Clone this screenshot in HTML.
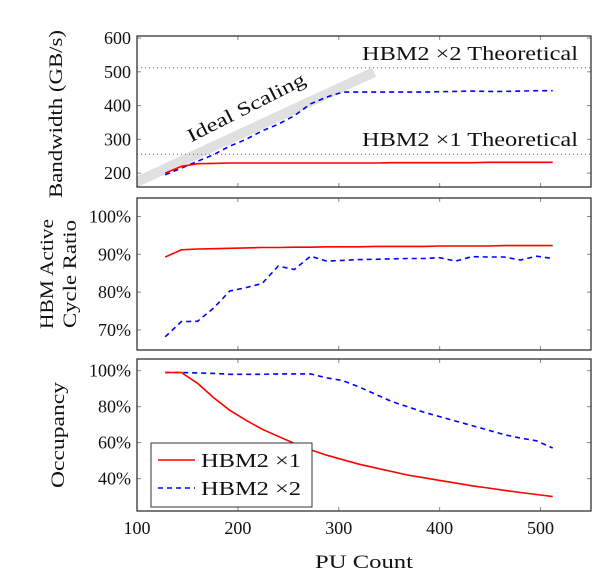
<!DOCTYPE html>
<html><head><meta charset="utf-8"><style>
html,body{margin:0;padding:0;background:#fff;}
svg{display:block;font-family:"Liberation Serif",serif;}
</style></head><body>
<svg id="chart" width="607" height="582" viewBox="0 0 607 582" xmlns="http://www.w3.org/2000/svg"></svg>
<script>
const puCounts=[128,144,160,176,192,208,224,240,256,272,288,304,320,336,352,368,384,400,416,432,448,464,480,496,512];
const bwX1=[200,220,228,229,230,230,230,230,230,230,230,230,230,230,231,231,231,231,231,231,232,232,232,232,232];
const bwX2=[195,215,235,255,280,300,325,345,370,405,425,440,440,440,440,440,440,441,442,443,442,442,443,444,444];
const cycX1=[89.3,91.2,91.4,91.5,91.6,91.7,91.8,91.8,91.9,91.9,92.0,92.0,92.0,92.1,92.1,92.1,92.1,92.2,92.2,92.2,92.2,92.3,92.3,92.3,92.3];
const cycX2=[68.2,72.2,72.3,75.8,80.3,81.2,82.3,86.9,86.0,89.5,88.2,88.4,88.6,88.7,88.8,88.9,88.9,89.1,88.2,89.4,89.3,89.3,88.5,89.5,88.9];
const occX1=[99,99,93,85,78,72.5,67.5,63.5,59.5,56,53,50.5,48,46,44,42,40.5,39,37.5,36,34.8,33.5,32.3,31.2,30];
const occX2=[99,99,98.8,98.5,98,98,98,98.2,98.2,98.2,96,94.5,91,87,83,80,77,74.5,72,69.5,67,64.5,62.5,61,57];
const xTicks=[100,200,300,400,500];
const bwTicks=[200,300,400,500,600];
const pctTicks2=[70,80,90,100];
const pctTicks3=[40,60,80,100];
const theoretical=[256,512];
const idealLine=[[70,133],[335,499]];

const NS="http://www.w3.org/2000/svg";
const svg=document.getElementById('chart');
function el(tag,attrs,parent){const e=document.createElementNS(NS,tag);for(const k in attrs)e.setAttribute(k,attrs[k]);(parent||svg).appendChild(e);return e;}
const L=137,R=591;
const X=v=>L+(v-100)*(R-L)/450;
const panels=[
 {top:36,bot:187,min:159,max:606,ticks:bwTicks,fmt:v=>v,name:'bandwidth-panel'},
 {top:198,bot:350,min:64.7,max:104.9,ticks:pctTicks2,fmt:v=>v+'%',name:'cycle-ratio-panel'},
 {top:359,bot:511,min:22,max:106.5,ticks:pctTicks3,fmt:v=>v+'%',name:'occupancy-panel'}
];
panels.forEach(p=>{p.Y=v=>p.bot-(v-p.min)*(p.bot-p.top)/(p.max-p.min);});

function frame(p){
 const g=el('g',{});
 
 
 xTicks.forEach(t=>{
  el('line',{x1:X(t),x2:X(t),y1:p.top,y2:p.top+4,stroke:'#888','stroke-width':1},g);
  el('line',{x1:X(t),x2:X(t),y1:p.bot,y2:p.bot-4,stroke:'#888','stroke-width':1},g);
 });
 p.ticks.forEach(t=>{
  const y=p.Y(t);
  el('line',{x1:L,x2:L+4,y1:y,y2:y,stroke:'#888','stroke-width':1},g);
  el('line',{x1:R,x2:R-4,y1:y,y2:y,stroke:'#888','stroke-width':1},g);
  const tx=el('text',{x:L-6,y:y+6,'text-anchor':'end','font-size':18,fill:'#111'},g);
  
  
  tx.textContent=p.fmt(t);
 });
 return g;
}
function line(p,xs,ys,color,dash,name){
 const d=xs.map((x,i)=>(i?'L':'M')+X(x).toFixed(1)+','+p.Y(ys[i]).toFixed(1)).join(' ');
 const a={d:d,fill:'none',stroke:color,'stroke-width':1.6};
 if(dash)a['stroke-dasharray']='5,4';
 const e=el('path',a);
 
 
}
function box(p){el('rect',{x:L,y:p.top,width:R-L,height:p.bot-p.top,fill:'none',stroke:'#222','stroke-width':1.2});}

// panel 1
const p1=panels[0];
const clip=el('clipPath',{id:'c1'});el('rect',{x:L,y:p1.top,width:R-L,height:p1.bot-p1.top},clip);
frame(p1);
const ideal=el('line',{x1:X(idealLine[0][0]),y1:p1.Y(idealLine[0][1]),x2:X(idealLine[1][0]),y2:p1.Y(idealLine[1][1]),stroke:'#e0e0e0','stroke-width':10,'clip-path':'url(#c1)'});


theoretical.forEach((v,i)=>{
 const t=el('line',{x1:L,x2:R,y1:p1.Y(v),y2:p1.Y(v),stroke:'#666','stroke-width':1,'stroke-dasharray':'1,3'});
 
 
 const tx=el('text',{x:362,y:p1.Y(v)-8,'font-size':20,fill:'#111',textLength:216,lengthAdjust:'spacingAndGlyphs'});
 
 
 tx.textContent='HBM2 ×'+(i+1)+' Theoretical';
});
const it=el('text',{x:-65,y:0,'font-size':19,fill:'#111',textLength:130,lengthAdjust:'spacingAndGlyphs',transform:'translate(249,113) rotate(-27)'});


it.textContent='Ideal Scaling';
line(p1,puCounts,bwX2,'#00f',true,'bandwidth-x2-line');
line(p1,puCounts,bwX1,'#f00',false,'bandwidth-x1-line');
box(p1);

// panel 2
const p2=panels[1];frame(p2);
line(p2,puCounts,cycX2,'#00f',true,'cycle-x2-line');
line(p2,puCounts,cycX1,'#f00',false,'cycle-x1-line');
box(p2);

// panel 3
const p3=panels[2];frame(p3);
line(p3,puCounts,occX2,'#00f',true,'occupancy-x2-line');
line(p3,puCounts,occX1,'#f00',false,'occupancy-x1-line');
box(p3);

// x tick labels
xTicks.forEach(t=>{
 const tx=el('text',{x:X(t),y:534,'text-anchor':'middle','font-size':18,fill:'#111'});
 
 
 tx.textContent=t;
});

// legend
const lg=el('g',{});


el('rect',{x:151,y:443,width:161,height:64,fill:'#fff',stroke:'#333','stroke-width':1},lg);
el('line',{x1:158,x2:195,y1:460,y2:460,stroke:'#f00','stroke-width':1.6},lg);
el('line',{x1:158,x2:195,y1:488,y2:488,stroke:'#00f','stroke-width':1.6,'stroke-dasharray':'5,4'},lg);
const l1=el('text',{x:201,y:467,'font-size':20,fill:'#111',textLength:100,lengthAdjust:'spacingAndGlyphs'},lg);


l1.textContent='HBM2 ×1';
const l2=el('text',{x:201,y:495,'font-size':20,fill:'#111',textLength:100,lengthAdjust:'spacingAndGlyphs'},lg);


l2.textContent='HBM2 ×2';

// axis titles
function vt(x,y,s,len,name){const t=el('text',{x:-len/2,y:0,'font-size':19,fill:'#111',textLength:len,lengthAdjust:'spacingAndGlyphs',transform:'translate('+x+','+y+') rotate(-90)'});
 
 
 t.textContent=s;}
vt(62,114,'Bandwidth (GB/s)',168,'bandwidth-axis-title');
vt(53,274,'HBM Active',110,'cycle-axis-title-line1');
vt(76,274,'Cycle Ratio',108,'cycle-axis-title-line2');
vt(64,435,'Occupancy',106,'occupancy-axis-title');
const xt=el('text',{x:315,y:568,'font-size':19,fill:'#111',textLength:98,lengthAdjust:'spacingAndGlyphs'});


xt.textContent='PU Count';
</script>
</body></html>
